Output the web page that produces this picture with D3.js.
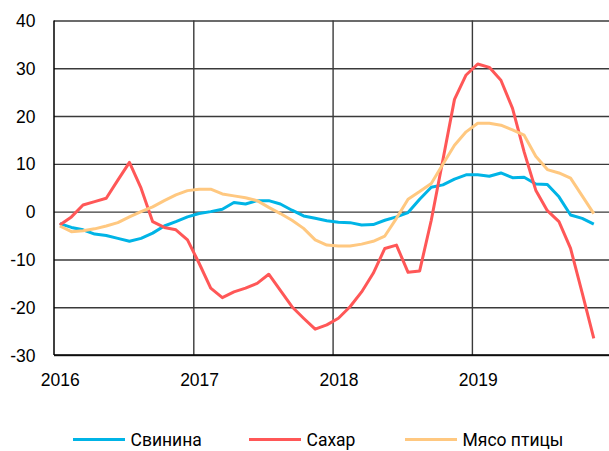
<!DOCTYPE html>
<html>
<head>
<meta charset="utf-8">
<script src="https://cdn.jsdelivr.net/npm/d3@7"></script>
<style>
  html, body { margin: 0; padding: 0; background: #fff; }
  svg { display: block; font-family: Roboto, "DejaVu Sans", sans-serif; }
</style>
</head>
<body>
<svg id="chart" width="609" height="451"></svg>
<script>
// monthly values, Jan 2016 .. Nov 2019
const years = [2016, 2017, 2018, 2019];
const yTicks = [-30, -20, -10, 0, 10, 20, 30, 40];

const pork = [
  -2.5, -3.3, -3.8, -4.7, -5.0, -5.6, -6.2, -5.6, -4.5, -3.0, -2.1, -1.1,
  -0.4, 0.0, 0.5, 1.9, 1.6, 2.3, 2.3, 1.6, 0.3, -0.9, -1.4, -1.9,
  -2.2, -2.3, -2.8, -2.7, -1.8, -1.1, -0.2, 2.6, 5.1, 5.6, 6.8, 7.7,
  7.7, 7.4, 8.1, 7.1, 7.2, 5.8, 5.7, 3.1, -0.7, -1.4, -2.6
];
const sugar = [
  -2.8, -1.1, 1.4, 2.1, 2.8, 6.6, 10.3, 4.9, -2.1, -3.3, -3.8, -5.9,
  -10.8, -16.0, -18.0, -16.8, -16.0, -15.0, -13.1, -16.5, -19.9, -22.3, -24.6, -23.7,
  -22.3, -19.9, -16.8, -12.9, -7.7, -7.0, -12.7, -12.4, -1.8, 10.8, 23.5, 28.6,
  30.9, 30.2, 27.5, 21.6, 12.5, 4.5, 0.2, -2.1, -7.7, -17.0, -26.5
];
const poultry = [
  -3.0, -4.2, -4.0, -3.6, -3.0, -2.3, -1.1, 0.0, 1.0, 2.3, 3.5, 4.4,
  4.7, 4.7, 3.7, 3.3, 2.9, 2.3, 0.9, -0.4, -1.8, -3.5, -5.9, -7.0,
  -7.2, -7.2, -6.8, -6.2, -5.1, -1.4, 2.6, 4.2, 5.9, 9.9, 13.9, 16.7,
  18.5, 18.5, 18.1, 17.1, 16.0, 11.6, 8.8, 8.1, 7.0, 3.3, -0.4
];

const seriesNames = ["Свинина", "Сахар", "Мясо птицы"];
const seriesColors = ["#00B4E6", "#FF5757", "#FFC880"];
const series = [pork, sugar, poultry];

// layout
const margin = { top: 20.5, left: 54 };
const plotW = 557.2;   // 48 months, last one runs past the edge
const plotH = 334.5;

const svg = d3.select("#chart");
const g = svg.append("g").attr("transform", `translate(${margin.left},${margin.top})`);

const x = d3.scaleLinear().domain([0, 48]).range([0, plotW]);
const y = d3.scaleLinear().domain([-30, 40]).range([plotH, 0]);

// horizontal grid + y labels (plain hyphen for negatives)
const yAxis = g.append("g")
  .call(d3.axisLeft(y).tickValues(yTicks).tickSize(-plotW).tickPadding(18.5).tickFormat(d => String(d)));
yAxis.select(".domain").remove();
yAxis.selectAll("line").attr("stroke", "#3a3a3a").attr("stroke-width", 1.4);
yAxis.selectAll("text").attr("fill", "#000").style("font-size", "17.5px").attr("dy", "0.35em");

// vertical year lines
const xGrid = g.append("g")
  .call(d3.axisBottom(x).tickValues([12, 24, 36]).tickSize(-plotH).tickFormat(""))
  .attr("transform", `translate(0,${plotH})`);
xGrid.select(".domain").remove();
xGrid.selectAll("line").attr("stroke", "#3a3a3a").attr("stroke-width", 1.4);

// year labels, centred on January
const xLab = g.append("g")
  .attr("transform", `translate(0,${plotH})`)
  .call(d3.axisBottom(x).tickValues(years.map((yr, i) => i * 12 + 0.5)).tickSize(0).tickPadding(19)
    .tickFormat((d, i) => years[i]));
xLab.select(".domain").remove();
xLab.selectAll("text").attr("fill", "#000").style("font-size", "17.5px");

// frame: left + bottom
g.append("line").attr("x1", 0).attr("x2", 0).attr("y1", 0).attr("y2", plotH)
  .attr("stroke", "#000").attr("stroke-width", 1.5);
g.append("line").attr("x1", 0).attr("x2", plotW).attr("y1", plotH).attr("y2", plotH)
  .attr("stroke", "#000").attr("stroke-width", 1.5);

// lines
const line = d3.line().x((d, i) => x(i + 0.5)).y(d => y(d));
series.forEach((s, k) => {
  g.append("path")
    .datum(s)
    .attr("fill", "none")
    .attr("stroke", seriesColors[k])
    .attr("stroke-width", 3)
    .attr("stroke-linejoin", "round")
    .attr("d", line);
});

// legend
const legendX = [73, 249, 405];
const legend = svg.append("g").attr("transform", "translate(0,439.5)");
seriesNames.forEach((name, k) => {
  legend.append("line")
    .attr("x1", legendX[k]).attr("x2", legendX[k] + 52)
    .attr("stroke", seriesColors[k]).attr("stroke-width", 3);
  legend.append("text")
    .attr("x", legendX[k] + 57.5).attr("y", 0).attr("dy", "0.35em")
    .style("font-size", "17.5px")
    .text(name);
});
</script>
</body>
</html>
